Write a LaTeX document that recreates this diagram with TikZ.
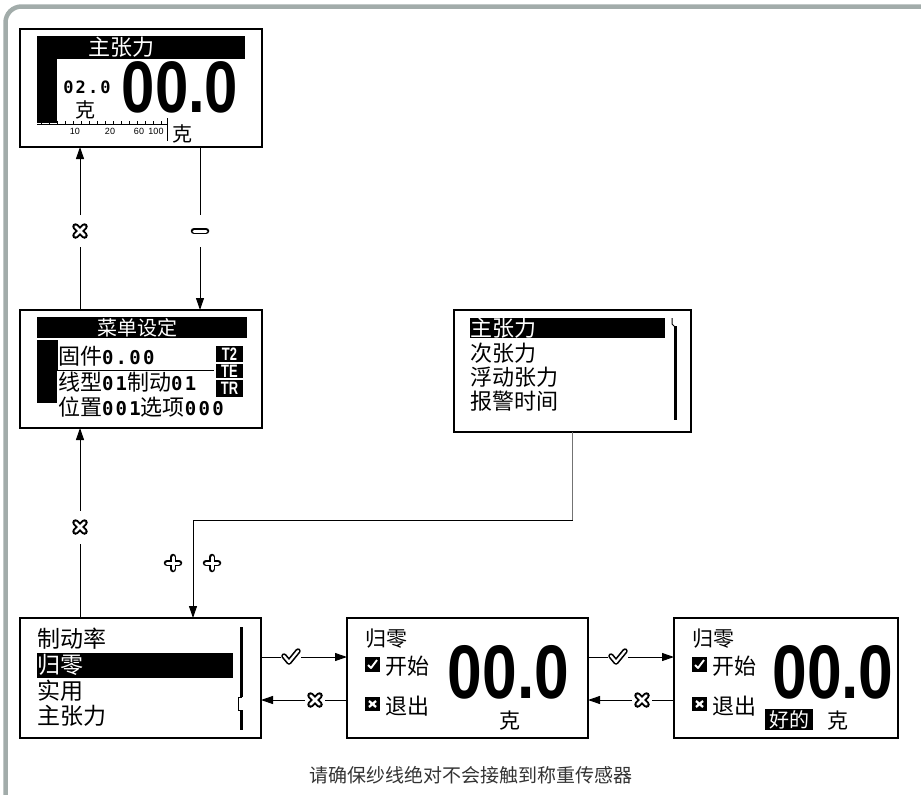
\documentclass[tikz,border=0pt]{standalone}
\usepackage{fontspec}
\usetikzlibrary{arrows.meta}
\newfontfamily\cjk{Noto Sans CJK SC}
\newfontfamily\dgf{DejaVu Sans Mono}
\newfontfamily\bdf{Liberation Sans}
\definecolor{framec}{RGB}{162,172,170}
\newcommand\bignum[1]{\scalebox{0.82}[1]{\bdf\bfseries\fontsize{#1}{#1}\selectfont 00.0}}
\newcommand\dd[2]{{\dgf\bfseries\fontsize{#1}{#1}\selectfont\addfontfeature{LetterSpace=12}#2}}
\newcommand\cjs[1]{\cjk\fontsize{#1}{#1}\selectfont}
\newcommand\chkbox[2]{\fill (#1,#2) rectangle ++(15,15);
  \draw[white, line width=1.9pt, line join=round] (#1+3,#2+8) -- (#1+6,#2+11) -- (#1+12,#2+3);}
\newcommand\xbox[2]{\fill (#1,#2) rectangle ++(15,14);
  \draw[white, line width=2.3pt] (#1+4,#2+4) -- (#1+11,#2+10) (#1+4,#2+10) -- (#1+11,#2+4);}
\begin{document}
\begin{tikzpicture}[x=1pt,y=-1pt,
  screen/.style={draw, line width=1.6pt, inner sep=0, outer sep=0},
  lcd/.style={inner sep=0, outer sep=0, font=\cjs{22}},
  ln/.style={line width=1pt},
  arr/.style={ln, -{Triangle[length=12pt,width=8pt]}},
  vgap/.style={inner sep=0, outer sep=0, minimum width=16pt, minimum height=32pt},
  hgap/.style={inner sep=0, outer sep=0, minimum width=20pt, minimum height=14pt},
  tlabel/.style={inner sep=0, text=white, font=\bdf\bfseries\fontsize{18}{18}\selectfont},
  xsym/.pic={\draw[line width=6.5pt,line cap=round] (-4.5,-4.5)--(4.5,4.5) (-4.5,4.5)--(4.5,-4.5);
             \draw[white,line width=2.8pt,line cap=round] (-4.5,-4.5)--(4.5,4.5) (-4.5,4.5)--(4.5,-4.5);},
  msym/.pic={\draw[line width=6.5pt,line cap=round] (-6,0)--(6,0);
             \draw[white,line width=3pt,line cap=round] (-6,0)--(6,0);},
  psym/.pic={\draw[line width=6.5pt,line cap=round] (-6,0)--(6,0) (0,-6)--(0,6);
             \draw[white,line width=3pt,line cap=round] (-6,0)--(6,0) (0,-6)--(0,6);},
  csym/.pic={\draw[line width=5.5pt,line cap=round,line join=round] (-7,-1)--(-2,5)--(7,-6);
             \draw[white,line width=2.2pt,line cap=round,line join=round] (-7,-1)--(-2,5)--(7,-6);},
]
\useasboundingbox (0,0) rectangle (921,795);
\draw[framec, line width=4.5pt, rounded corners=16pt] (5.5,805) -- (5.5,6.5) -- (930,6.5);

% screens
\node[screen, minimum width=242pt, minimum height=118pt] (top) at (141,88) {};
\node[screen, minimum width=242pt, minimum height=118pt] (menu) at (141,369) {};
\node[screen, minimum width=237pt, minimum height=122pt] (rmenu) at (572.5,371) {};
\node[screen, minimum width=241pt, minimum height=120pt] (bl) at (140.5,678) {};
\node[screen, minimum width=241pt, minimum height=120pt] (bm) at (467.5,678) {};
\node[screen, minimum width=224pt, minimum height=120pt] (br) at (786,678) {};

% top screen contents
\fill (37,36) rectangle (245,59);
\node[lcd, text=white] at (121,47.5) {主张力};
\fill (37,59) rectangle (57,123);
\node[inner sep=0] at (87,87) {\dd{17}{02.0}};
\node[lcd, font=\cjs{20}] at (85,110) {克};
\node[inner sep=0] at (180,87) {\bignum{73}};
\draw[line width=0.8pt] (37,124) -- (167,124);
\foreach \x in {41,49,...,161} \draw[line width=0.7pt] (\x,121) -- (\x,124);
\draw[line width=0.9pt] (167,118) -- (167,141);
\node[inner sep=0, font=\bdf\fontsize{9}{9}\selectfont] at (75,131) {10};
\node[inner sep=0, font=\bdf\fontsize{9}{9}\selectfont] at (110,131) {20};
\node[inner sep=0, font=\bdf\fontsize{9}{9}\selectfont] at (139,131) {60};
\node[inner sep=0, font=\bdf\fontsize{9}{9}\selectfont] at (156,131) {100};
\node[lcd, font=\cjs{20}] at (182,134) {克};

% menu screen contents
\fill (37,317) rectangle (247,338);
\node[lcd, text=white, font=\cjs{20}] at (137,327.5) {菜单设定};
\fill (37,340) rectangle (57,403);
\draw[line width=1pt] (57,340) -- (57,370) -- (214,370);
\fill (216,346) rectangle (243,362);
\fill (216,364) rectangle (243,378);
\fill (216,380) rectangle (243,397);
\node[tlabel] at (229.5,354) {\scalebox{0.72}[1]{T2}};
\node[tlabel] at (229.5,371) {\scalebox{0.72}[1]{TE}};
\node[tlabel] at (229.5,388.5) {\scalebox{0.72}[1]{TR}};
\node[lcd, anchor=west] at (58,356) {固件\dd{19}{0.00}};
\node[lcd, anchor=west] at (58,382) {线型\dd{19}{01}制动\dd{19}{01}};
\node[lcd, anchor=west] at (58,407) {位置\dd{19}{001}选项\dd{19}{000}};

% right menu contents
\fill (470,318) rectangle (665,338);
\node[lcd, anchor=west, text=white] at (470,328) {主张力};
\node[lcd, anchor=west] at (470,353) {次张力};
\node[lcd, anchor=west] at (470,377) {浮动张力};
\node[lcd, anchor=west] at (470,401) {报警时间};
\draw[line width=1pt] (672,318) -- (672,324) -- (675,327);
\draw[line width=3.5pt] (675.5,326) -- (675.5,420);

% bottom-left menu
\node[lcd, anchor=west, font=\cjs{23}] at (37,639) {制动率};
\fill (37,653) rectangle (233,678);
\node[lcd, anchor=west, font=\cjs{23}, text=white] at (37,665) {归零};
\node[lcd, anchor=west, font=\cjs{23}] at (37,691) {实用};
\node[lcd, anchor=west, font=\cjs{23}] at (37,716) {主张力};
\draw[line width=3.2pt] (241.5,627) -- (241.5,697);
\draw[line width=1pt] (241.5,697) -- (238,697) -- (238,710) -- (241.5,710);
\draw[line width=3.2pt] (241.5,710) -- (241.5,730);

% bottom-middle
\node[lcd, anchor=west, font=\cjs{21}] at (365,639) {归零};
\chkbox{365}{657}
\node[lcd, anchor=west] at (385,666) {开始};
\xbox{365}{697}
\node[lcd, anchor=west] at (385,706) {退出};
\node[inner sep=0] at (508.5,672) {\bignum{76}};
\node[lcd, font=\cjs{21}] at (510,721) {克};

% bottom-right
\node[lcd, anchor=west, font=\cjs{21}] at (692,639) {归零};
\chkbox{692}{657}
\node[lcd, anchor=west] at (712,666) {开始};
\xbox{692}{697}
\node[lcd, anchor=west] at (712,706) {退出};
\node[inner sep=0] at (833,672) {\bignum{76}};
\fill (765,709) rectangle (813,730);
\node[lcd, font=\cjs{20}, text=white] at (789,720) {好的};
\node[lcd, font=\cjs{21}] at (838,721) {克};

% connectors
\node[vgap] (gA) at (80,231) {};
\draw[ln] (gA |- menu.north) -- (gA.south);
\draw[arr] (gA.north) -- (gA |- top.south);
\pic at (gA) {xsym};

\node[vgap] (gB) at (200,231) {};
\draw[ln] (gB |- top.south) -- (gB.north);
\draw[arr] (gB.south) -- (gB |- menu.north);
\pic at (gB) {msym};

\node[vgap, minimum height=33pt] (gC) at (80,527) {};
\draw[ln] (gC |- bl.north) -- (gC.south);
\draw[arr] (gC.north) -- (gC |- menu.south);
\pic at (gC) {xsym};

\coordinate (bend) at (193,520);
\draw[ln, draw=black!55] (rmenu.south) -- (rmenu.south |- bend);
\draw[arr] (rmenu.south |- bend) -- (bend) -- (bend |- bl.north);
\pic at (173,563) {psym};
\pic at (212,563) {psym};

\node[hgap] (gD) at (291,657) {};
\draw[ln] (gD -| bl.east) -- (gD.west);
\draw[arr] (gD.east) -- (gD -| bm.west);
\pic at (gD) {csym};

\node[hgap] (gE) at (315,700) {};
\draw[ln] (gE -| bm.west) -- (gE.east);
\draw[arr] (gE.west) -- (gE -| bl.east);
\pic at (gE) {xsym};

\node[hgap] (gF) at (618,657) {};
\draw[ln] (gF -| bm.east) -- (gF.west);
\draw[arr] (gF.east) -- (gF -| br.west);
\pic at (gF) {csym};

\node[hgap] (gG) at (642,700) {};
\draw[ln] (gG -| br.west) -- (gG.east);
\draw[arr] (gG.west) -- (gG -| bm.east);
\pic at (gG) {xsym};

% caption
\node[inner sep=0, text=black!80, font=\cjs{19}] (cap) at (471,775) {请确保纱线绝对不会接触到称重传感器};
\end{tikzpicture}
\end{document}
